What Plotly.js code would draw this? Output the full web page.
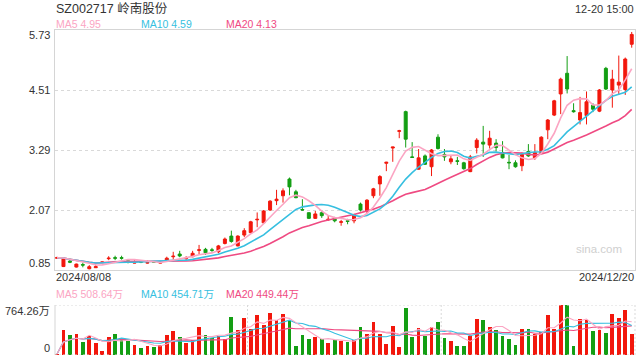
<!DOCTYPE html>
<html><head><meta charset="utf-8">
<script src="https://cdn.plot.ly/plotly-3.0.1.min.js"></script>
<style>html,body{margin:0;padding:0;background:#fff}#chart{width:640px;height:360px}</style>
</head><body><div id="chart"></div>
<script>
// ---- data (SZ002717, 2024/08/08 - 2024/12/20, daily) ----
const openP  = [1.09,0.92,1.03,0.91,0.96,0.876,0.897,1.00,1.08,1.10,
                1.10,1.04,0.99,1.02,0.99,1.02,0.99,1.03,1.12,1.175,
                1.08,1.12,1.25,1.27,1.26,1.22,1.39,1.54,1.34,1.56,
                1.61,1.87,1.81,2.07,2.26,2.36,2.70,2.44,2.08,2.015,
                1.90,2.015,1.87,1.90,1.82,1.85,1.85,2.19,2.04,2.36,
                2.60,3.02,3.33,3.67,4.07,3.15,2.90,3.17,2.95,3.55,
                3.20,3.05,3.07,3.03,2.85,3.34,3.45,3.39,3.43,3.24,
                3.04,3.03,2.97,3.26,3.13,3.22,3.70,4.00,4.43,4.85,
                4.09,3.90,3.99,4.20,4.08,4.95,4.51,4.61,4.52,5.44];
const highP  = [1.12,1.10,1.09,0.98,1.00,0.95,0.966,1.02,1.13,1.14,
                1.14,1.06,1.05,1.03,1.05,1.03,1.04,1.12,1.22,1.24,
                1.13,1.24,1.36,1.30,1.30,1.36,1.51,1.65,1.555,1.70,
                1.85,2.02,2.07,2.27,2.48,2.51,2.73,2.48,2.29,2.02,
                2.05,2.07,1.955,1.93,1.87,1.89,1.99,2.22,2.29,2.52,
                2.78,3.05,3.35,3.70,4.09,3.45,3.31,3.20,3.31,3.61,
                3.31,3.18,3.15,3.05,3.19,3.53,3.78,3.68,3.51,3.47,
                3.19,3.08,3.24,3.41,3.41,3.57,3.92,4.31,4.76,5.20,
                4.24,4.37,4.48,4.24,4.53,4.98,4.92,5.21,5.17,5.69];
const lowP   = [1.08,0.91,0.99,0.90,0.905,0.864,0.89,0.995,1.05,1.05,
                1.06,0.985,0.985,0.99,0.98,1.00,0.98,1.02,1.06,1.11,
                1.05,1.11,1.175,1.155,1.22,1.19,1.37,1.405,1.33,1.52,
                1.60,1.72,1.80,2.05,2.17,2.22,2.37,2.31,2.06,1.89,
                1.89,1.91,1.85,1.82,1.75,1.78,1.80,2.04,1.99,2.31,
                2.36,2.86,3.05,3.53,3.34,3.13,2.89,2.985,2.76,3.30,
                3.07,3.00,2.985,2.89,2.84,3.22,3.15,3.32,3.26,3.12,
                2.90,2.93,2.86,3.15,3.09,3.21,3.51,3.98,4.02,4.44,
                4.05,3.81,3.81,4.06,4.06,4.51,4.15,4.41,4.41,5.37];
const closeP = [1.10,1.09,1.01,0.97,0.95,0.917,0.917,1.013,1.09,1.09,
                1.09,1.03,1.00,1.01,1.00,1.01,1.00,1.09,1.13,1.135,
                1.09,1.19,1.26,1.20,1.25,1.34,1.48,1.43,1.54,1.65,
                1.83,1.88,2.05,2.25,2.29,2.46,2.54,2.32,2.07,1.90,
                1.99,1.955,1.88,1.85,1.83,1.84,1.98,2.07,2.27,2.50,
                2.75,3.04,3.35,3.68,3.51,3.14,3.13,3.00,3.29,3.32,
                3.15,3.11,3.06,2.91,3.15,3.49,3.41,3.53,3.34,3.13,
                3.03,2.95,3.20,3.17,3.24,3.55,3.90,4.29,4.73,4.53,
                4.07,4.05,4.27,4.12,4.51,4.53,4.73,4.67,5.14,5.64];
// volume, unit 万 (10k shares)
const volume = [15,382,306,321,204,296,178,61,270,316,
                250,214,153,112,143,127,148,306,367,275,
                183,229,423,306,265,285,239,576,382,566,
                397,611,459,642,535,627,535,138,306,245,
                280,239,183,229,214,199,229,423,321,504,
                316,168,443,122,718,275,408,296,423,504,
                260,214,138,138,290,550,535,423,382,290,
                245,153,397,397,321,352,611,397,764,764,
                138,550,535,367,382,336,627,566,688,321];
const priceTicks = [5.73, 4.51, 3.29, 2.07, 0.85];
const volTicks = [764.26, 0];
const volTickLabels = ['764.26万', '0'];
const dateLabels = ['2024/08/08', '2024/12/20'];
const priceMALabels = ['MA5 4.95', 'MA10 4.59', 'MA20 4.13'];
const volMALabels = ['MA5 508.64万', 'MA10 454.71万', 'MA20 449.44万'];
const titleText = 'SZ002717 岭南股份';
const timeText = '12-20 15:00';

// ---- styling ----
const RED = '#f2170c', GREEN = '#139e13';
const C_MA5 = '#fba5c3', C_MA10 = '#36bfe0', C_MA20 = '#ef4a82';
const FONT = 'Liberation Sans, Arial, Noto Sans CJK SC, sans-serif';

const idx = closeP.map((_, i) => i);
function movingAvg(arr, n) {
  return arr.map((_, i) => {
    const s = Math.max(0, i - n + 1);
    let sum = 0;
    for (let k = s; k <= i; k++) sum += arr[k];
    return sum / (i - s + 1);
  });
}
const barColors = idx.map(i => closeP[i] >= openP[i] ? RED : GREEN);

const traces = [
  {type: 'candlestick', x: idx, open: openP, high: highP, low: lowP, close: closeP,
   xaxis: 'x', yaxis: 'y', whiskerwidth: 0, hoverinfo: 'skip',
   increasing: {line: {color: RED, width: 1}, fillcolor: RED},
   decreasing: {line: {color: GREEN, width: 1}, fillcolor: GREEN}},
  {type: 'scatter', mode: 'lines', x: idx, y: movingAvg(closeP, 20), xaxis: 'x', yaxis: 'y',
   line: {color: C_MA20, width: 1.6}, hoverinfo: 'skip'},
  {type: 'scatter', mode: 'lines', x: idx, y: movingAvg(closeP, 10), xaxis: 'x', yaxis: 'y',
   line: {color: C_MA10, width: 1.6}, hoverinfo: 'skip'},
  {type: 'scatter', mode: 'lines', x: idx, y: movingAvg(closeP, 5), xaxis: 'x', yaxis: 'y',
   line: {color: C_MA5, width: 1.6}, hoverinfo: 'skip'},
  {type: 'bar', x: idx, y: volume, xaxis: 'x2', yaxis: 'y2', width: 0.58,
   marker: {color: barColors, line: {width: 0}}, hoverinfo: 'skip'},
  {type: 'scatter', mode: 'lines', x: idx, y: movingAvg(volume, 20), xaxis: 'x2', yaxis: 'y2',
   line: {color: C_MA20, width: 1.1}, hoverinfo: 'skip'},
  {type: 'scatter', mode: 'lines', x: idx, y: movingAvg(volume, 10), xaxis: 'x2', yaxis: 'y2',
   line: {color: C_MA10, width: 1.1}, hoverinfo: 'skip'},
  {type: 'scatter', mode: 'lines', x: idx, y: movingAvg(volume, 5), xaxis: 'x2', yaxis: 'y2',
   line: {color: C_MA5, width: 1.1}, hoverinfo: 'skip'}
];

const W = 580, H = 360, L = 55;
const px = p => (p - L) / W;
const py = p => (H - p) / H;
function ann(text, x, y, xanchor, size, color, extra) {
  return Object.assign({text: text, xref: 'paper', yref: 'paper', x: x, y: y,
    xanchor: xanchor, yanchor: 'middle', showarrow: false,
    font: {family: FONT, size: size, color: color}}, extra || {});
}
const maColors = [C_MA5, C_MA10, C_MA20];
const maX = [55, 140, 225];
const annotations = [
  ann(titleText, px(54), py(8.5), 'left', 12.5, '#333'),
  ann(timeText, px(636), py(8.5), 'right', 11, '#333'),
  ann(dateLabels[0], px(54), py(277), 'left', 11, '#333'),
  ann(dateLabels[1], px(636), py(277), 'right', 11, '#333'),
  ann('sina.com', px(624), py(249), 'right', 11.5, '#cfcfcf')
];
priceMALabels.forEach((t, i) => annotations.push(ann(t, px(maX[i] - 1), py(24.5), 'left', 10.5, maColors[i])));
volMALabels.forEach((t, i) => annotations.push(ann(t, px(maX[i] - 1), py(294), 'left', 10.5, maColors[i])));
priceTicks.forEach((t, i) => annotations.push({text: t.toFixed(2), xref: 'paper', x: px(52), xanchor: 'right',
  yref: 'y', y: t, yanchor: 'middle', showarrow: false,
  yshift: i === 0 ? -5 : (i === priceTicks.length - 1 ? 7 : 0),
  font: {family: FONT, size: 11, color: '#333'}}));
volTicks.forEach((t, i) => annotations.push({text: volTickLabels[i], xref: 'paper', x: px(52), xanchor: 'right',
  yref: 'y2', y: t, yanchor: 'middle', showarrow: false,
  yshift: i === 0 ? -6 : 7,
  font: {family: FONT, size: 11, color: '#333'}}));

const FRAME = '#d5d5d5', DOT = '#d9d9d9';
const xRange = [-0.31, idx.length - 0.49];
const shapes = [
  {type: 'line', xref: 'paper', yref: 'y2', x0: 0, x1: 1, y0: volTicks[0], y1: volTicks[0], line: {color: DOT, width: 1, dash: '2px,2px'}},
  {type: 'line', xref: 'paper', yref: 'y2', x0: 0, x1: 1, y0: 0, y1: 0, line: {color: DOT, width: 1, dash: '2px,2px'}},
  {type: 'line', xref: 'paper', yref: 'y2', x0: 0, x1: 0, y0: 0, y1: volTicks[0], line: {color: FRAME, width: 1}},
  {type: 'line', xref: 'paper', yref: 'y2', x0: 1, x1: 1, y0: 0, y1: volTicks[0], line: {color: DOT, width: 1, dash: '2px,2px'}},
  {type: 'line', xref: 'x2', yref: 'y2', x0: 29.5, x1: 29.5, y0: 0, y1: volTicks[0], line: {color: DOT, width: 1, dash: '2px,2px'}},
  {type: 'line', xref: 'x2', yref: 'y2', x0: 59.5, x1: 59.5, y0: 0, y1: volTicks[0], line: {color: DOT, width: 1, dash: '2px,2px'}}
];

const layout = {
  width: 640, height: 360,
  margin: {l: 55, r: 5, t: 0, b: 0, pad: 0},
  paper_bgcolor: '#fff', plot_bgcolor: '#fff',
  showlegend: false, boxgap: 0.34, bargap: 0,
  font: {family: FONT, color: '#333'},
  xaxis: {domain: [0, 1], anchor: 'y', range: xRange, showticklabels: false, showgrid: false,
          zeroline: false, ticks: '', showline: true, mirror: true, linecolor: FRAME, linewidth: 1,
          rangeslider: {visible: false}, fixedrange: true},
  yaxis: {domain: [py(270), py(30)], anchor: 'x', range: [priceTicks[priceTicks.length - 1], priceTicks[0]],
          tickvals: priceTicks, showticklabels: false, ticks: '', showgrid: true, gridcolor: DOT,
          griddash: '3px,3px', gridwidth: 1, zeroline: false, showline: true, mirror: true,
          linecolor: FRAME, linewidth: 1, fixedrange: true},
  xaxis2: {domain: [0, 1], anchor: 'y2', range: xRange, showticklabels: false, showgrid: false,
           zeroline: false, ticks: '', showline: false, fixedrange: true},
  yaxis2: {domain: [py(355), py(305)], anchor: 'x2', range: [0, volTicks[0]], showticklabels: false,
           showgrid: false, zeroline: false, ticks: '', showline: false, fixedrange: true},
  annotations: annotations,
  shapes: shapes
};

Plotly.newPlot('chart', traces, layout, {displayModeBar: false, staticPlot: true});
</script>
</body></html>
